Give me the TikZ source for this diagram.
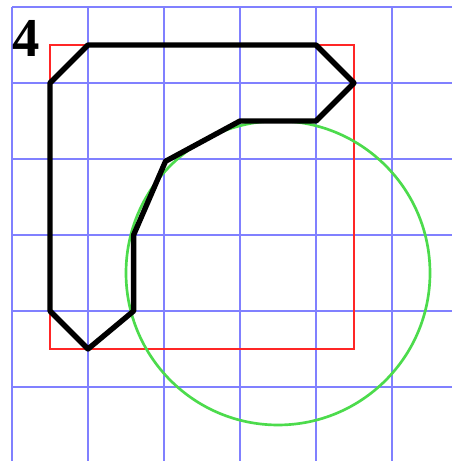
\documentclass[tikz,border=0pt]{standalone}
\usepackage{fontspec}
\setmainfont{Liberation Serif}
\usepackage{tikz}

\begin{document}
\begin{tikzpicture}[x=1cm, y=-1cm,
  gridline/.style={draw=blue!50!white, line width=0.8pt},
  boxline/.style={draw=red!85!white, line width=0.8pt},
  ringline/.style={draw=green!80!black!70!white, line width=1pt},
  shapeline/.style={draw=black, line width=2pt, line join=round}]

\useasboundingbox (-0.158,-0.092) rectangle (5.789,5.974);

% Grid
\foreach \i in {0,...,5} {
    \draw[gridline] (\i,0) -- (\i,5.974);
    \draw[gridline] (0,\i) -- (5.789,\i);
}

% Red square
\draw[boxline] (0.5,0.5) rectangle (4.5,4.5);

% Green circle
\coordinate (C) at (3.5,3.5);
\draw[ringline] (C) circle (2);

% Black outline
\draw[shapeline] (1,0.5) -- (4,0.5) -- (4.5,1) -- (4,1.5) -- (3,1.5)
    -- (2.02,2.03) -- (1.6,3) -- (1.6,4) -- (1,4.5) -- (0.5,4) -- (0.5,1) -- cycle;

% Label
\node[font=\fontsize{20.5}{22}\selectfont\bfseries, inner sep=0pt] (num) at (0.19,0.41) {4};
\end{tikzpicture}
\end{document}
